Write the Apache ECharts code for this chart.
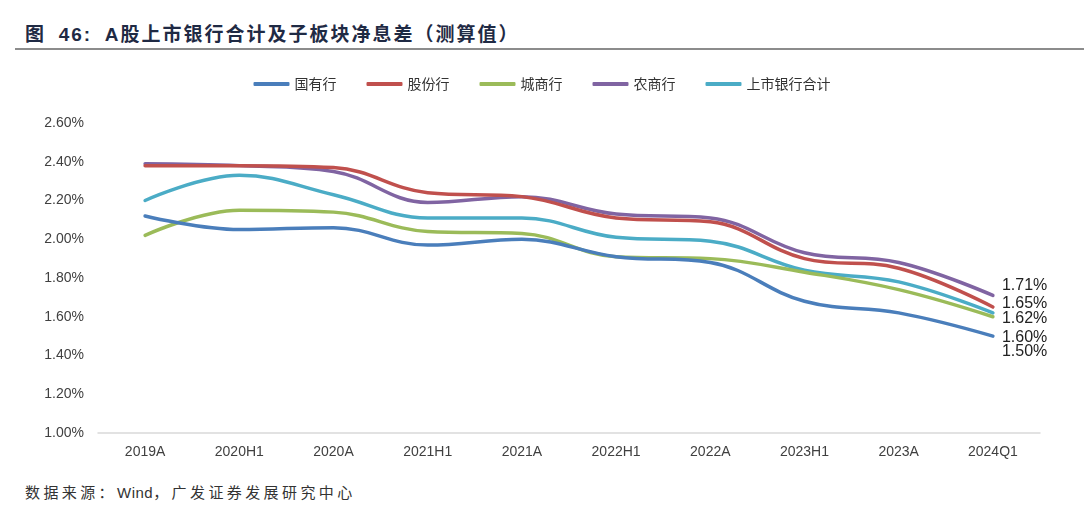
<!DOCTYPE html>
<html><head><meta charset="utf-8">
<script src="https://cdn.jsdelivr.net/npm/echarts@6/dist/echarts.min.js"></script>
<style>
html,body{margin:0;padding:0;background:#fff;}
#wrap{position:relative;width:1084px;height:506px;}
#title{position:absolute;left:25px;top:19px;font-family:"Noto Sans CJK SC";font-size:19px;font-weight:bold;color:#1f2a44;letter-spacing:2px;white-space:nowrap;}
#title .num{font-family:"Liberation Sans",Arial;}
#rule{position:absolute;left:15px;right:0;top:48px;height:2px;background:#8c8c8c;}
#src{position:absolute;left:25px;top:481px;font-family:"Noto Sans CJK SC";font-size:15px;color:#333;letter-spacing:3.4px;white-space:nowrap;}
#src .en{font-family:"Liberation Sans",Arial;letter-spacing:0.5px;}
#chart{position:absolute;left:0;top:55px;width:1084px;height:420px;}
</style></head>
<body><div id="wrap">
<div id="title">图&nbsp;&nbsp;<span class="num">46:</span>&nbsp;&nbsp;<span class="num">A</span>股上市银行合计及子板块净息差（测算值）</div>
<div id="rule"></div>
<div id="chart"></div>
<div id="src">数据来源：<span class="en">Wind</span>，广发证券发展研究中心</div>
</div>
<script>
const categories = ['2019A','2020H1','2020A','2021H1','2021A','2022H1','2022A','2023H1','2023A','2024Q1'];
const seriesNames = ['国有行','股份行','城商行','农商行','上市银行合计'];
const stateOwned = [2.12,2.05,2.06,1.97,2.00,1.91,1.88,1.68,1.62,1.50];
const jointStock = [2.38,2.38,2.37,2.24,2.22,2.11,2.09,1.90,1.85,1.65];
const cityComm  = [2.02,2.15,2.14,2.04,2.03,1.91,1.90,1.83,1.74,1.60];
const ruralComm = [2.39,2.38,2.35,2.19,2.22,2.13,2.11,1.93,1.88,1.71];
const listedAll = [2.20,2.33,2.23,2.11,2.11,2.01,1.99,1.84,1.78,1.62];
const yTicks = [1.0,1.2,1.4,1.6,1.8,2.0,2.2,2.4,2.6];

const colors = ['#4a7ebb','#c0504d','#9bbb59','#8064a2','#4bacc6'];
const labelOffsets = [[0,15],[0,-3],[0,21],[0,-10],[0,6]];
const allData = [stateOwned, jointStock, cityComm, ruralComm, listedAll];

const chart = echarts.init(document.getElementById('chart'));
chart.setOption({
  animation:false,
  color: colors,
  textStyle:{fontFamily:'"Liberation Sans", Arial, sans-serif'},
  legend:{
    top:17, left:'center', itemWidth:36, itemHeight:4, itemGap:30,
    icon:'roundRect',
    textStyle:{fontFamily:'"Noto Sans CJK SC"', fontSize:14, color:'#333'},
    data: seriesNames
  },
  grid:{left:98, right:44, top:68, bottom:42},
  xAxis:{
    type:'category', data:categories, boundaryGap:true,
    axisLine:{lineStyle:{color:'#d9d9d9', width:1.5}},
    axisTick:{show:false},
    axisLabel:{color:'#404040', fontSize:14, margin:12}
  },
  yAxis:{
    type:'value', min:yTicks[0], max:yTicks[yTicks.length-1], interval:0.2,
    axisLine:{show:false}, axisTick:{show:false}, splitLine:{show:false},
    axisLabel:{color:'#404040', fontSize:14, margin:14, formatter:v=>v.toFixed(2)+'%'}
  },
  series: seriesNames.map((name,i)=>({
    name, type:'line', smooth:0.4, symbol:'none',
    lineStyle:{width:3.5, color:colors[i], cap:'round'},
    z: 10 - i,
    data: allData[i],
    endLabel:{show:true, distance:9, offset:labelOffsets[i],
      formatter:p=>Number(p.value).toFixed(2)+'%', color:'#222', fontSize:16}
  }))
});
</script>
</body></html>
